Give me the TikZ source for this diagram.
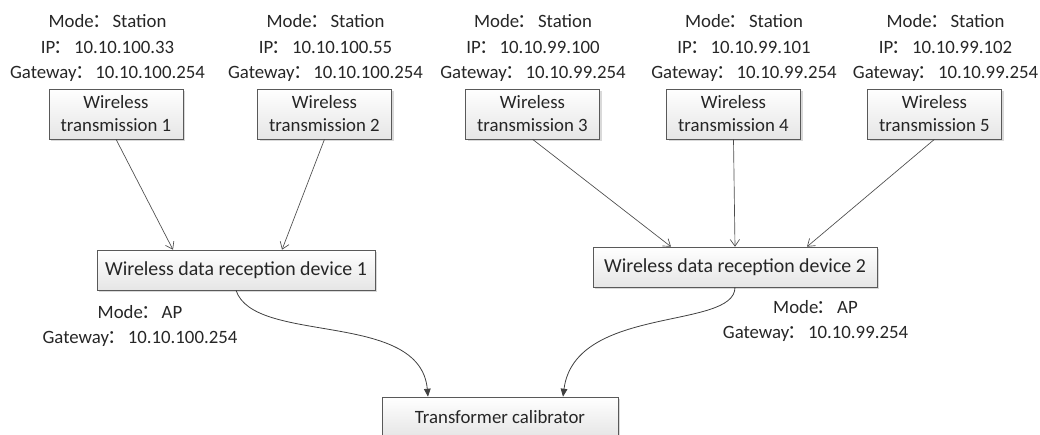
\documentclass[tikz,border=0pt]{standalone}
\usepackage{fontspec}
\setmainfont{Carlito}
\newfontfamily\cjk{Noto Sans CJK SC}
\newcommand\fc{\hspace{-0.08em}{\cjk ：}\hspace{0.08em}}
\usetikzlibrary{shadows,arrows.meta}

\begin{document}
\begin{tikzpicture}[x=0.75pt,y=-0.75pt,
  box/.style={draw=black!65, top color=white, bottom color=black!10,
    drop shadow={shadow xshift=1.5pt,shadow yshift=-1.5pt,fill=black!25,opacity=0.6},
    align=center, inner sep=0pt, text=black!85},
  tbox/.style={box, minimum width=100.5pt, minimum height=37.5pt, font=\fontsize{14.1}{17.2}\selectfont},
  dbox/.style={box, minimum height=30pt, font=\fontsize{14.9}{18}\selectfont},
  info/.style={align=center, inner sep=0pt, text=black!85, font=\fontsize{14.1}{19.1}\selectfont},
  link/.style={draw=black!70, line width=0.5pt, -{Straight Barb[length=5pt,width=7pt]}},
  curve/.style={draw=black!75, line width=0.6pt, -{Triangle[length=6pt,width=5pt]}}]
\useasboundingbox (0,0) rectangle (1040,435);

\node[info] (s1) at (107.5,48) {Mode\fc Station\\IP\fc 10.10.100.33\\Gateway\fc 10.10.100.254};
\node[info] (s2) at (325.5,48) {Mode\fc Station\\IP\fc 10.10.100.55\\Gateway\fc 10.10.100.254};
\node[info] (s3) at (533,48) {Mode\fc Station\\IP\fc 10.10.99.100\\Gateway\fc 10.10.99.254};
\node[info] (s4) at (744,48) {Mode\fc Station\\IP\fc 10.10.99.101\\Gateway\fc 10.10.99.254};
\node[info] (s5) at (945.5,48) {Mode\fc Station\\IP\fc 10.10.99.102\\Gateway\fc 10.10.99.254};

\node[tbox] (t1) at (116,114) {Wireless\\transmission 1};
\node[tbox] (t2) at (324.5,114) {Wireless\\transmission 2};
\node[tbox] (t3) at (532.5,114) {Wireless\\transmission 3};
\node[tbox] (t4) at (733.5,114) {Wireless\\transmission 4};
\node[tbox] (t5) at (934.5,114) {Wireless\\transmission 5};

\node[dbox, minimum width=208.5pt] (d1) at (236,270) {Wireless data reception device 1};
\node[dbox, minimum width=213pt] (d2) at (735,267) {Wireless data reception device 2};
\node[info] (a1) at (140,326) {Mode\fc AP\\Gateway\fc 10.10.100.254};
\node[info] (a2) at (815.5,321) {Mode\fc AP\\Gateway\fc 10.10.99.254};

\node[dbox, minimum width=177pt, font=\fontsize{14.1}{17}\selectfont] (cal) at (500,417) {Transformer calibrator};

\draw[link] (t1.south) -- ([xshift=-47.25pt]d1.north);
\draw[link] (t2.south) -- ([xshift=34.5pt]d1.north);
\draw[link] (t3.south) -- ([xshift=-48pt]d2.north);
\draw[link] (t4.south) -- (d2.north);
\draw[link] (t5.south) -- ([xshift=54pt]d2.north);

\draw[curve] (d1.south) .. controls +(18,55) and +(-8,-87) .. ([xshift=-54pt]cal.north);
\draw[curve] (d2.south) .. controls +(0,43) and +(12,-92) .. ([xshift=47.25pt]cal.north);
\end{tikzpicture}
\end{document}
